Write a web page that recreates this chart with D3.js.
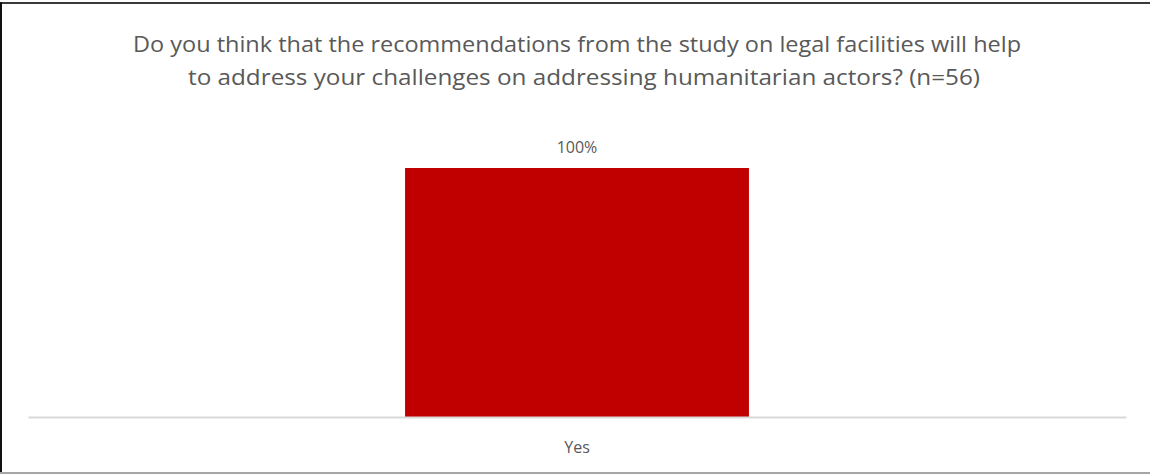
<!DOCTYPE html>
<html>
<head>
<meta charset="utf-8">
<script src="https://cdn.jsdelivr.net/npm/d3@7"></script>
<style>
  html, body { margin: 0; padding: 0; background: #fff; }
  svg { display: block; }
  text { font-family: "Open Sans", "Liberation Sans", sans-serif; fill: #595959; }
</style>
</head>
<body>
<svg id="chart" width="1150" height="474"></svg>
<script>
// Survey answer share
const categories = ["Yes"];
const shares = [1.0];
const valueLabels = ["100%"];
const titleLines = [
  "Do you think that the recommendations from the study on legal facilities will help",
  "to address your challenges on addressing humanitarian actors? (n=56)"
];

const W = 1150, H = 474;
const svg = d3.select("#chart");

// frame lines
svg.append("rect").attr("x", 0).attr("y", 2).attr("width", W).attr("height", 2).attr("fill", "#3a3a3a");
svg.append("rect").attr("x", 0).attr("y", 2).attr("width", 2).attr("height", H - 2).attr("fill", "#111");
svg.append("rect").attr("x", 0).attr("y", 472).attr("width", W).attr("height", 2).attr("fill", "#a6a6a6");

const plot = { left: 28, right: 1126, base: 417 };

const x = d3.scaleBand()
  .domain(categories)
  .range([plot.left, plot.right])
  .paddingInner(0.523)
  .paddingOuter(0.523);

const y = d3.scaleLinear()
  .domain([0, 1.2])
  .range([plot.base, plot.base - 249 * 1.2]);

// title
const titleWidths = [888, 792];
const titleX = [577, 584];
svg.append("g").selectAll("text")
  .data(titleLines)
  .join("text")
  .attr("x", (d, i) => titleX[i])
  .attr("y", (d, i) => 52 + i * 33)
  .attr("text-anchor", "middle")
  .attr("font-size", 21.5)
  .attr("font-weight", 400)
  .attr("textLength", (d, i) => titleWidths[i])
  .attr("lengthAdjust", "spacingAndGlyphs")
  .text(d => d);

// bars
svg.append("g").selectAll("rect")
  .data(categories)
  .join("rect")
  .attr("x", d => x(d))
  .attr("y", (d, i) => y(shares[i]))
  .attr("width", x.bandwidth())
  .attr("height", (d, i) => y(0) - y(shares[i]))
  .attr("fill", "#C00000");

// value labels
svg.append("g").selectAll("text")
  .data(categories)
  .join("text")
  .attr("x", d => x(d) + x.bandwidth() / 2)
  .attr("y", (d, i) => y(shares[i]) - 15)
  .attr("text-anchor", "middle")
  .attr("font-size", 16)
  .text((d, i) => valueLabels[i]);

// category axis
const axis = svg.append("g")
  .attr("transform", `translate(0,${plot.base})`)
  .call(d3.axisBottom(x).tickSize(0).tickPadding(25));
axis.select(".domain").attr("stroke", "#d9d9d9").attr("stroke-width", 2);
axis.selectAll(".tick text")
  .attr("font-size", 16)
  .attr("fill", "#595959")
  .style("font-family", "\"Open Sans\", \"Liberation Sans\", sans-serif");
</script>
</body>
</html>
